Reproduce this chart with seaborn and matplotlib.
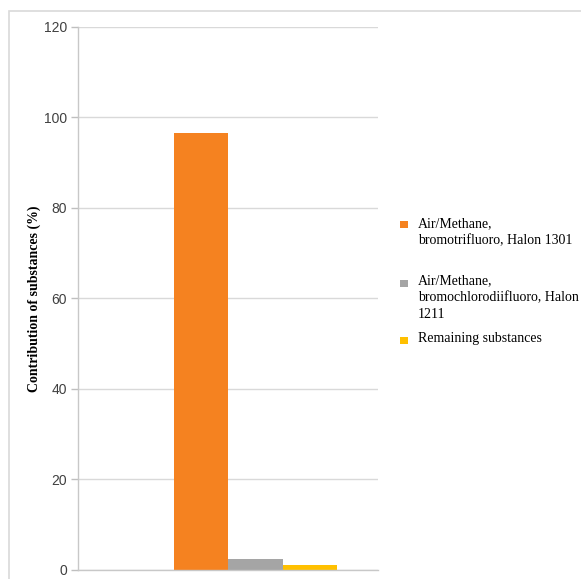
import matplotlib
matplotlib.use("Agg")
import matplotlib.pyplot as plt
from matplotlib.patches import Rectangle
import seaborn as sns
import pandas as pd

# Contribution of substances to the impact category (%)
substances = [
    "Air/Methane,\nbromotrifluoro, Halon 1301",
    "Air/Methane,\nbromochlorodiifluoro, Halon\n1211",
    "Remaining substances",
]
contributions = [96.5, 2.35, 1.1]
colors = ["#F58220", "#A5A5A5", "#FFC000"]
y_ticks = [0, 20, 40, 60, 80, 100, 120]

df = pd.DataFrame({"group": ["all"] * len(substances),
                   "substance": substances,
                   "value": contributions})

sns.set_theme(style="white")
fig = plt.figure(figsize=(5.81, 5.79), dpi=100)
ax = fig.add_axes([78 / 581, 1 - 569.5 / 579, 300 / 581, (569.5 - 27) / 579])

sns.barplot(data=df, x="group", y="value", hue="substance",
            hue_order=substances, palette=colors, width=0.8,
            linewidth=0, saturation=1, legend=False, ax=ax)

# horizontal axis carries no labels; bars sit right of centre
unit = 163 / 0.8
ax.set_xlim(-(255.5 - 78) / unit, (378 - 255.5) / unit)
ax.set_xticks([])
ax.set_xlabel("")

ax.set_ylim(0, 120)
ax.set_yticks(y_ticks)
ax.set_yticklabels([str(t) for t in y_ticks], fontfamily="Liberation Sans",
                   fontsize=10, color="#404040")
ax.tick_params(axis="y", which="major", left=True, length=5, width=1,
               color="#BFBFBF", pad=3)
ax.yaxis.grid(True, color="#D9D9D9", linewidth=1)
ax.set_axisbelow(True)

for side in ("top", "right"):
    ax.spines[side].set_visible(False)
for side in ("left", "bottom"):
    ax.spines[side].set_color("#C8C8C8")
    ax.spines[side].set_linewidth(1)

ax.set_ylabel("Contribution of substances (%)", fontfamily="Liberation Serif",
              fontweight="bold", fontsize=10, color="black")
ax.yaxis.set_label_coords((41 - 78) / 300, 0.5)

# legend drawn as square swatches with serif labels to the right of the plot
text_tops = [217, 274, 332]
swatch_centres = [224, 283, 340]
for name, col, ttop, yc in zip(substances, colors, text_tops, swatch_centres):
    fig.patches.append(Rectangle((400 / 581, 1 - (yc + 4) / 579),
                                 7.5 / 581, 7.5 / 579, transform=fig.transFigure,
                                 facecolor=col, edgecolor="none"))
    fig.text(418 / 581, 1 - ttop / 579, name, ha="left", va="top",
             fontfamily="Liberation Serif", fontsize=10, color="black",
             linespacing=1.38)

# light frame around the chart area
fig.patches.append(Rectangle((9 / 581, -0.05), 1.1, 1 - 11 / 579 + 0.05,
                             transform=fig.transFigure, facecolor="none",
                             edgecolor="#D9D9D9", linewidth=1.2))

fig.savefig("out.png", dpi=100)
